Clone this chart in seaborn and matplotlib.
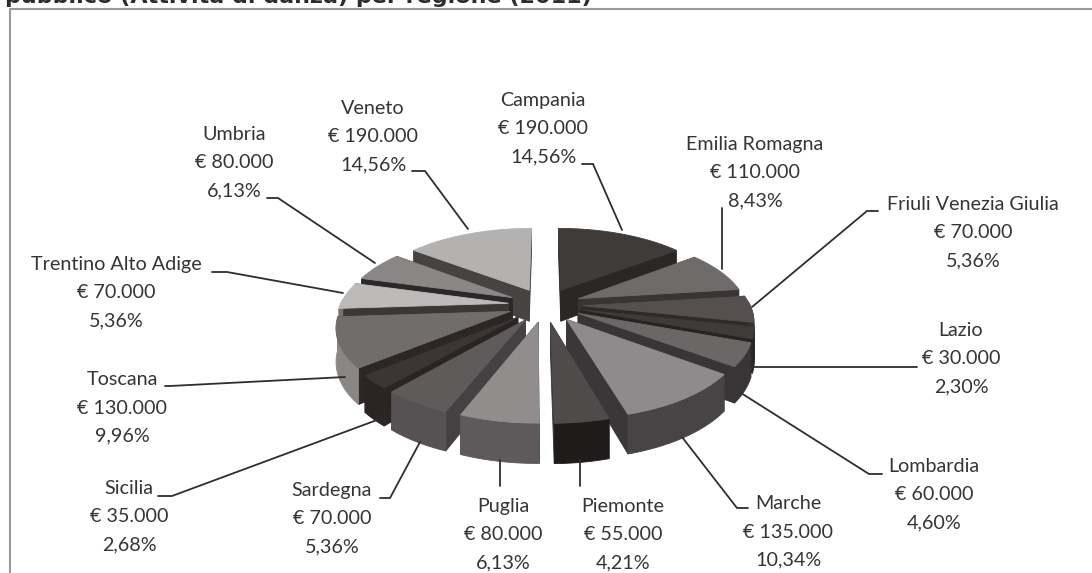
import numpy as np
import matplotlib
matplotlib.use("Agg")
import matplotlib.pyplot as plt
import seaborn as sns

regions = ["Campania", "Emilia Romagna", "Friuli Venezia Giulia", "Lazio", "Lombardia",
           "Marche", "Piemonte", "Puglia", "Sardegna", "Sicilia", "Toscana",
           "Trentino Alto Adige", "Umbria", "Veneto"]
amounts = [190000, 110000, 70000, 30000, 60000, 135000, 55000, 80000, 70000, 35000,
           130000, 70000, 80000, 190000]
amount_labels = ["€ 190.000", "€ 110.000", "€ 70.000", "€ 30.000", "€ 60.000", "€ 135.000",
                 "€ 55.000", "€ 80.000", "€ 70.000", "€ 35.000", "€ 130.000", "€ 70.000",
                 "€ 80.000", "€ 190.000"]
percent_labels = ["14,56%", "8,43%", "5,36%", "2,30%", "4,60%", "10,34%", "4,21%", "6,13%",
                  "5,36%", "2,68%", "9,96%", "5,36%", "6,13%", "14,56%"]
title_text = "pubblico (Attività di danza) per regione (2011)"

top_colors = ["#3f3b39", "#6f6b6a", "#55504f", "#3f3b3a", "#6b6766", "#8f8b8c", "#4f4b4b",
              "#918d8d", "#5f5b5b", "#3d3534", "#716d6d", "#bdbaba", "#8b8787", "#b4b1b1"]
wall_colors = ["#2b2725", "#393534", "#2e2a29", "#272322", "#393436", "#3b3738", "#3a3636",
               "#4a4647", "#454142", "#2a2422", "#2c2725", "#3c3737", "#2a2828", "#474343"]
rim_colors = ["#2b2725", "#393534", "#332f2e", "#2c2827", "#393436", "#484445", "#1f1b1b",
              "#5e5a5b", "#565152", "#2a2422", "#8a8686", "#777373", "#6a6666", "#777373"]

label_pos = [(543, 129), (755, 173), (973, 233), (961, 359), (934, 495), (788, 532), (623, 535),
             (503, 535), (332, 519), (129, 517), (122, 408), (116, 293), (234, 163), (373, 137)]
leaders = [
    [(582, 164), (593, 164), (622, 230)],
    [(722, 208), (722, 269)],
    [(878, 211), (867, 211), (752, 307)],
    [(917, 367), (905, 367), (750, 367)],
    [(882, 474), (869, 474), (741, 393)],
    [(748, 508), (737, 508), (682, 437)],
    [(580, 460), (580, 486)],
    [(500, 460), (500, 486)],
    [(380, 498), (390, 498), (420, 442)],
    [(158, 496), (172, 496), (377, 420)],
    [(165, 386), (170, 386), (345, 377)],
    [(212, 272), (227, 272), (343, 293)],
    [(267, 198), (278, 198), (375, 263)],
    [(412, 171), (425, 171), (468, 229)],
]

sns.set_theme(style="white")
plt.rcParams["font.family"] = ["Lato", "DejaVu Sans"]

CX, CY, RX, RY, K, EXPLODE, DEPTH = 545, 305, 168, 77, 0.17, 0.22, 32


def project(x, y, drop=False):
    x, y = np.asarray(x, float), np.asarray(y, float)
    w = 1 - K * y
    return CX + RX * x / w, CY + RY * y / w + (DEPTH / w if drop else 0)


fig = plt.figure(figsize=(10.92, 5.73), dpi=100, facecolor="white")
ax = fig.add_axes([0, 0, 1, 1])
ax.set_xlim(0, 1092)
ax.set_ylim(573, 0)
ax.axis("off")

values = np.array(amounts, float)
edges = np.concatenate([[0], np.cumsum(values) / values.sum() * 2 * np.pi])
mids = (edges[:-1] + edges[1:]) / 2


def face(px, py, color, z):
    ax.fill(px, py, facecolor=color, edgecolor=color, linewidth=0.6, zorder=z)


order = np.argsort(-np.cos(mids))  # back slices first
for rank, i in enumerate(order):
    z = 2 + rank
    t = np.linspace(edges[i], edges[i + 1], 60)
    ox, oy = EXPLODE * np.sin(mids[i]), -EXPLODE * np.cos(mids[i])
    arc_x, arc_y = ox + np.sin(t), oy - np.cos(t)
    # radial walls
    for a, b in ((arc_x[0], arc_y[0]), (arc_x[-1], arc_y[-1])):
        x1, y1 = project([ox, a], [oy, b])
        x2, y2 = project([a, ox], [b, oy], drop=True)
        face(np.r_[x1, x2], np.r_[y1, y2], wall_colors[i], z)
    # rim, only where the outer surface faces the viewer
    front = np.cos(t) < 0.05
    if front.sum() > 1:
        x1, y1 = project(arc_x[front], arc_y[front])
        x2, y2 = project(arc_x[front][::-1], arc_y[front][::-1], drop=True)
        face(np.r_[x1, x2], np.r_[y1, y2], rim_colors[i], z + 0.2)
    # top
    x1, y1 = project(arc_x, arc_y)
    x0, y0 = project(ox, oy)
    face(np.r_[x0, x1], np.r_[y0, y1], top_colors[i], z + 0.5)

for pts in leaders:
    xs, ys = zip(*pts)
    ax.plot(xs, ys, color="#2f2d2d", lw=1.3, zorder=30, solid_joinstyle="miter")

for i, (x, y) in enumerate(label_pos):
    ax.text(x, y, f"{regions[i]}\n{amount_labels[i]}\n{percent_labels[i]}", ha="center", va="center",
            fontsize=14.2, color="#363434", linespacing=1.8, zorder=40)

# frame of the scanned page
ax.plot([10, 10, 1092], [573, 9, 9], color="#9a9a9a", lw=1.5, zorder=1)
ax.text(5, 3, title_text, family="DejaVu Sans", fontweight="bold", fontsize=16,
        color="#2c2c2c", ha="left", va="baseline", zorder=40)

fig.savefig("out.png", dpi=100, facecolor="white")
